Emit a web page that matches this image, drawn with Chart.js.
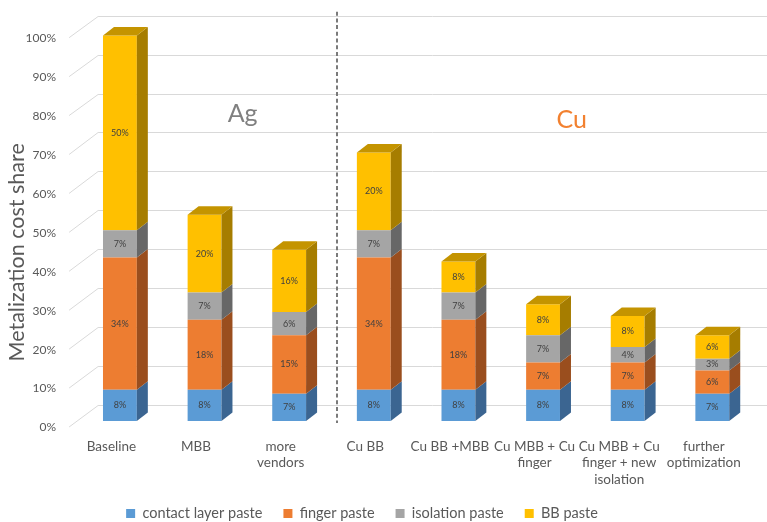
<!DOCTYPE html>
<html>
<head>
<meta charset="utf-8">
<script src="https://cdn.jsdelivr.net/npm/chart.js@4.4.1/dist/chart.umd.min.js"></script>
<style>
  html, body { margin: 0; padding: 0; background: #ffffff; }
  #wrap { width: 767px; height: 522px; }
</style>
</head>
<body>
<div id="wrap"><canvas id="c" width="767" height="522"></canvas></div>
<script>
// Metalization cost share per scenario (percent of baseline)
const categories = [
  ['Baseline'], ['MBB'], ['more', 'vendors'], ['Cu BB'], ['Cu BB +MBB'],
  ['Cu MBB + Cu', 'finger'], ['Cu MBB + Cu', 'finger + new', 'isolation'],
  ['further', 'optimization']
];
const seriesNames = ['contact layer paste', 'finger paste', 'isolation paste', 'BB paste'];
const contactLayerPaste = [8, 8, 7, 8, 8, 8, 8, 7];
const fingerPaste       = [34, 18, 15, 34, 18, 7, 7, 6];
const isolationPaste    = [7, 7, 6, 7, 7, 7, 4, 3];
const bbPaste           = [50, 20, 16, 20, 8, 8, 8, 6];
const yTickValues = [0, 10, 20, 30, 40, 50, 60, 70, 80, 90, 100];
const groupNames = ['Ag', 'Cu'];
const axisTitle = 'Metalization cost share';

// styling
const frontColors = ['#5B9BD5', '#ED7D31', '#A5A5A5', '#FFC000'];
const sideColors  = ['#3B6591', '#9A4E1E', '#676767', '#A67D00'];
const topColors   = ['#4A80B2', '#C0651F', '#878787', '#C49400'];
const textGray = '#595959';
const DEPTH_X = 11, DEPTH_Y = -8.5;     // bar depth
const FLOOR_X = 29, FLOOR_Y = -22;      // wall depth
const BAR_SHIFT_X = 8.5, BAR_SHIFT_Y = -6; // bars sit slightly behind the floor front

Chart.defaults.font.family = 'Lato, "Open Sans", sans-serif';

const seriesData = [contactLayerPaste, fingerPaste, isolationPaste, bbPaste];

// back wall gridlines with their diagonal floor edge, plus the Ag/Cu separator
const wallPlugin = {
  id: 'wall',
  beforeDatasetsDraw(chart) {
    const { ctx, chartArea, scales: { x, y } } = chart;
    ctx.save();
    ctx.strokeStyle = '#D9D9D9';
    ctx.lineWidth = 1;
    const xf = chartArea.left - BAR_SHIFT_X;
    const xb = xf + FLOOR_X;
    yTickValues.forEach(v => {
      const yp = y.getPixelForValue(v);
      const yFront = yp - BAR_SHIFT_Y;
      const yBack = Math.round(yFront + FLOOR_Y) + 0.5;
      ctx.beginPath();
      ctx.moveTo(xf, yFront);
      ctx.lineTo(xb, yBack);
      ctx.lineTo(chart.width, yBack);
      ctx.stroke();
    });
    // dashed separator between the silver and copper scenarios
    const xs = Math.round((x.getPixelForValue(2) + x.getPixelForValue(3)) / 2 + DEPTH_X / 2);
    ctx.strokeStyle = '#7A7A7A';
    ctx.lineWidth = 2;
    ctx.setLineDash([4, 2.7]);
    ctx.beginPath();
    ctx.moveTo(xs, y.getPixelForValue(100) - 20);
    ctx.lineTo(xs, y.getPixelForValue(0) + 2);
    ctx.stroke();
    ctx.restore();
  }
};

// side and top faces of each stacked bar, then value labels on the front faces
const barFacesPlugin = {
  id: 'barFaces',
  afterDatasetsDraw(chart) {
    const { ctx } = chart;
    ctx.save();
    for (let d = 0; d < chart.data.datasets.length; d++) {
      const meta = chart.getDatasetMeta(d);
      meta.data.forEach((el, i) => {
        const p = el.getProps(['x', 'y', 'base', 'width'], true);
        const x1 = p.x + p.width / 2, x0 = p.x - p.width / 2;
        const yt = Math.min(p.y, p.base), yb = Math.max(p.y, p.base);
        ctx.fillStyle = sideColors[d];
        ctx.beginPath();
        ctx.moveTo(x1, yt);
        ctx.lineTo(x1 + DEPTH_X, yt + DEPTH_Y);
        ctx.lineTo(x1 + DEPTH_X, yb + DEPTH_Y);
        ctx.lineTo(x1, yb);
        ctx.closePath();
        ctx.fill();
        // top face only on the highest segment of the stack
        let isTop = true;
        for (let k = d + 1; k < chart.data.datasets.length; k++) {
          if (chart.data.datasets[k].data[i] > 0) isTop = false;
        }
        if (isTop) {
          ctx.fillStyle = topColors[d];
          ctx.beginPath();
          ctx.moveTo(x0, yt);
          ctx.lineTo(x0 + DEPTH_X, yt + DEPTH_Y);
          ctx.lineTo(x1 + DEPTH_X, yt + DEPTH_Y);
          ctx.lineTo(x1, yt);
          ctx.closePath();
          ctx.fill();
        }
      });
    }
    // value labels
    ctx.fillStyle = '#404040';
    ctx.font = '9px Lato, sans-serif';
    ctx.textAlign = 'center';
    ctx.textBaseline = 'middle';
    for (let d = 0; d < chart.data.datasets.length; d++) {
      const meta = chart.getDatasetMeta(d);
      meta.data.forEach((el, i) => {
        const v = chart.data.datasets[d].data[i];
        const p = el.getProps(['x', 'y', 'base'], true);
        ctx.fillText(v + '%', p.x, (p.y + p.base) / 2);
      });
    }
    // group captions
    const { x, y } = chart.scales;
    ctx.font = '25px Lato, sans-serif';
    ctx.textBaseline = 'alphabetic';
    ctx.fillStyle = '#808080';
    ctx.fillText(groupNames[0], x.getPixelForValue(1.45), y.getPixelForValue(76.9));
    ctx.fillStyle = '#F28130';
    ctx.fillText(groupNames[1], x.getPixelForValue(5.34), y.getPixelForValue(75.3));
    ctx.restore();
  }
};

// vertical axis title, centred on the visible wall
const axisTitlePlugin = {
  id: 'axisTitle',
  afterDraw(chart) {
    const { ctx, chartArea } = chart;
    ctx.save();
    ctx.translate(17, (chartArea.top + chartArea.bottom) / 2 + 26);
    ctx.rotate(-Math.PI / 2);
    ctx.font = '21.5px Lato, sans-serif';
    ctx.fillStyle = textGray;
    ctx.textAlign = 'center';
    ctx.textBaseline = 'middle';
    ctx.fillText(axisTitle, 0, 0);
    ctx.restore();
  }
};

// place the legend row under the plot and let the category labels use the full height
const legendPlacePlugin = {
  id: 'legendPlace',
  afterLayout(chart) {
    chart.scales.x.bottom = chart.height;
  },
  afterUpdate(chart) {
    const lg = chart.legend;
    if (!lg) return;
    const dx = 362 - (lg.left + lg.right) / 2;
    const pad = lg.options.labels.padding;
    const fs = lg.options.labels.font.size;
    const dy = 513.5 - (lg.top + pad + fs / 2);
    lg.left += dx; lg.right += dx;
    lg.top += dy; lg.bottom += dy;
  }
};

const PLOT_BOTTOM = 421;

new Chart(document.getElementById('c'), {
  type: 'bar',
  data: {
    labels: categories,
    datasets: seriesData.map((arr, k) => ({
      label: seriesNames[k],
      data: arr,
      backgroundColor: frontColors[k],
      borderWidth: 0,
      barPercentage: 0.4,
      categoryPercentage: 1.0
    }))
  },
  options: {
    responsive: false,
    animation: false,
    devicePixelRatio: 1,
    layout: { padding: { left: 0, right: 11, top: 31.7, bottom: 0 } },
    scales: {
      x: {
        stacked: true,
        grid: { display: false, drawTicks: false },
        border: { display: false },
        ticks: {
          color: textGray,
          font: { size: 13.5, lineHeight: 1.24 },
          padding: 17,
          labelOffset: -BAR_SHIFT_X,
          autoSkip: false,
          maxRotation: 0,
          minRotation: 0
        },
        afterFit(scale) {
          const lg = scale.chart.legend;
          scale.height = scale.chart.height - PLOT_BOTTOM - (lg ? lg.height : 0);
        }
      },
      y: {
        stacked: true,
        min: 0,
        max: 100,
        grid: { display: false, drawTicks: false },
        border: { display: false },
        ticks: {
          stepSize: 10,
          color: textGray,
          font: { size: 12 },
          padding: 21.6,
          labelOffset: -BAR_SHIFT_Y + 0.5,
          callback: v => v + '%'
        },
        afterFit(scale) { scale.width = 77.6; }
      }
    },
    plugins: {
      legend: {
        position: 'bottom',
        labels: {
          color: textGray,
          font: { size: 14.5 },
          boxWidth: 9,
          boxHeight: 9,
          padding: 21
        }
      },
      tooltip: { enabled: false }
    }
  },
  plugins: [wallPlugin, barFacesPlugin, axisTitlePlugin, legendPlacePlugin]
});
</script>
</body>
</html>
